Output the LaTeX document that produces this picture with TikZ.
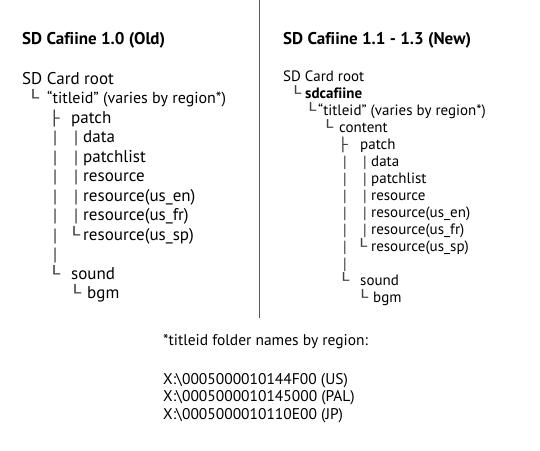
\documentclass[tikz,border=0pt]{standalone}
\usepackage{fontspec}
\setmainfont{PT Sans}[Ligatures=NoCommon]
\newfontfamily\boxfont{DejaVu Sans}
\newcommand{\elbow}{\scalebox{1.6}[1.2]{└}}
\newcommand{\tee}{\scalebox{1.4}[1.15]{├}}

\begin{document}
\begin{tikzpicture}[x=1pt,y=-1pt,
  head/.style={anchor=base west,inner sep=0pt,font=\bfseries\fontsize{17}{20}\selectfont},
  oldtxt/.style={anchor=base west,inner sep=0pt,font=\fontsize{17}{20}\selectfont},
  oldglyph/.style={anchor=base west,inner sep=0pt,text=black!75,font=\boxfont\fontsize{12.5}{14}\selectfont},
  oldpipe/.style={oldglyph,font=\boxfont\fontsize{15}{17}\selectfont},
  newtxt/.style={anchor=base west,inner sep=0pt,font=\fontsize{15}{18}\selectfont},
  newglyph/.style={anchor=base west,inner sep=0pt,text=black!75,font=\boxfont\fontsize{11.5}{13}\selectfont},
  newpipe/.style={newglyph,font=\boxfont\fontsize{13.5}{15}\selectfont},
  foot/.style={anchor=base west,inner sep=0pt,font=\fontsize{15.5}{18}\selectfont}]
\useasboundingbox (0,0) rectangle (540,450);

% Divider
\draw[gray!70!black, line width=0.8pt] (259,0) -- (259,318);

% Headers
\node[head] (oldhead) at (22,44) {SD Cafiine 1.0 (Old)};
\node[head] (newhead) at (283,44) {SD Cafiine 1.1 - 1.3 (New)};

% Old tree
\node[oldtxt] (oldroot) at (22,84) {SD Card root};
\node[oldglyph] (oldg1) at (27,103.5) {\elbow};
\node[oldtxt, font=\fontsize{16}{20}\selectfont] (oldtitle) at (47,103.5) {“titleid” (varies by region*)};
\node[oldglyph] (oldg2) at (49,123) {\tee};
\node[oldtxt] (oldpatch) at (71,123) {patch};
\node[oldpipe] (oldg3) at (52.5,142.5) {|};
\node[oldpipe] (oldg4) at (73.5,142.5) {|};
\node[oldtxt] (olddata) at (83,142.5) {data};
\node[oldpipe] (oldg5) at (52.5,162) {|};
\node[oldpipe] (oldg6) at (73.5,162) {|};
\node[oldtxt] (oldlist) at (83,162) {patchlist};
\node[oldpipe] (oldg7) at (52.5,181.5) {|};
\node[oldpipe] (oldg8) at (73.5,181.5) {|};
\node[oldtxt] (oldres) at (83,181.5) {resource};
\node[oldpipe] (oldg9) at (52.5,201) {|};
\node[oldpipe] (oldg10) at (73.5,201) {|};
\node[oldtxt] (olden) at (83,201) {resource(us\_en)};
\node[oldpipe] (oldg11) at (52.5,220.5) {|};
\node[oldpipe] (oldg12) at (73.5,220.5) {|};
\node[oldtxt] (oldfr) at (83,220.5) {resource(us\_fr)};
\node[oldpipe] (oldg13) at (52.5,240) {|};
\node[oldglyph] (oldg14) at (68,240) {\elbow};
\node[oldtxt] (oldsp) at (83,240) {resource(us\_sp)};
\node[oldpipe] (oldg15) at (52.5,259.5) {|};
\node[oldglyph] (oldg16) at (48,279) {\elbow};
\node[oldtxt] (oldsound) at (71,279) {sound};
\node[oldglyph] (oldg17) at (69,298.5) {\elbow};
\node[oldtxt] (oldbgm) at (87,298.5) {bgm};

% New tree
\node[newtxt] (newroot) at (283,81) {SD Card root};
\node[newglyph] (newg1) at (290,98) {\elbow};
\node[newtxt, font=\bfseries\fontsize{15}{18}\selectfont] (newsd) at (305,98) {sdcafiine};
\node[newglyph] (newg2) at (305,115) {\elbow};
\node[newtxt] (newtitle) at (318,115) {“titleid” (varies by region*)};
\node[newglyph] (newg3) at (322,132) {\elbow};
\node[newtxt] (newcont) at (339,132) {content};
\node[newglyph] (newg4) at (338,149) {\tee};
\node[newtxt] (newpatch) at (360,149) {patch};
\node[newpipe] (newg5) at (342.5,166) {|};
\node[newpipe] (newg6) at (362.5,166) {|};
\node[newtxt] (newdata) at (371,166) {data};
\node[newpipe] (newg7) at (342.5,183) {|};
\node[newpipe] (newg8) at (362.5,183) {|};
\node[newtxt] (newlist) at (371,183) {patchlist};
\node[newpipe] (newg9) at (342.5,200) {|};
\node[newpipe] (newg10) at (362.5,200) {|};
\node[newtxt] (newres) at (371,200) {resource};
\node[newpipe] (newg11) at (342.5,217) {|};
\node[newpipe] (newg12) at (362.5,217) {|};
\node[newtxt] (newen) at (371,217) {resource(us\_en)};
\node[newpipe] (newg13) at (342.5,234) {|};
\node[newpipe] (newg14) at (362.5,234) {|};
\node[newtxt] (newfr) at (371,234) {resource(us\_fr)};
\node[newpipe] (newg15) at (342.5,251) {|};
\node[newglyph] (newg16) at (356,251) {\elbow};
\node[newtxt] (newsp) at (371,251) {resource(us\_sp)};
\node[newpipe] (newg17) at (342.5,268) {|};
\node[newglyph] (newg18) at (338,285) {\elbow};
\node[newtxt] (newsound) at (360,285) {sound};
\node[newglyph] (newg19) at (357,302) {\elbow};
\node[newtxt] (newbgm) at (373,302) {bgm};

% Footnote
\node[foot] (footnote) at (163,345) {*titleid folder names by region:};
\node[foot] (idus) at (163,384) {X:\textbackslash 0005000010144F00 (US)};
\node[foot] (idpal) at (163,401.5) {X:\textbackslash 0005000010145000 (PAL)};
\node[foot] (idjp) at (163,419) {X:\textbackslash 0005000010110E00 (JP)};
\end{tikzpicture}
\end{document}
